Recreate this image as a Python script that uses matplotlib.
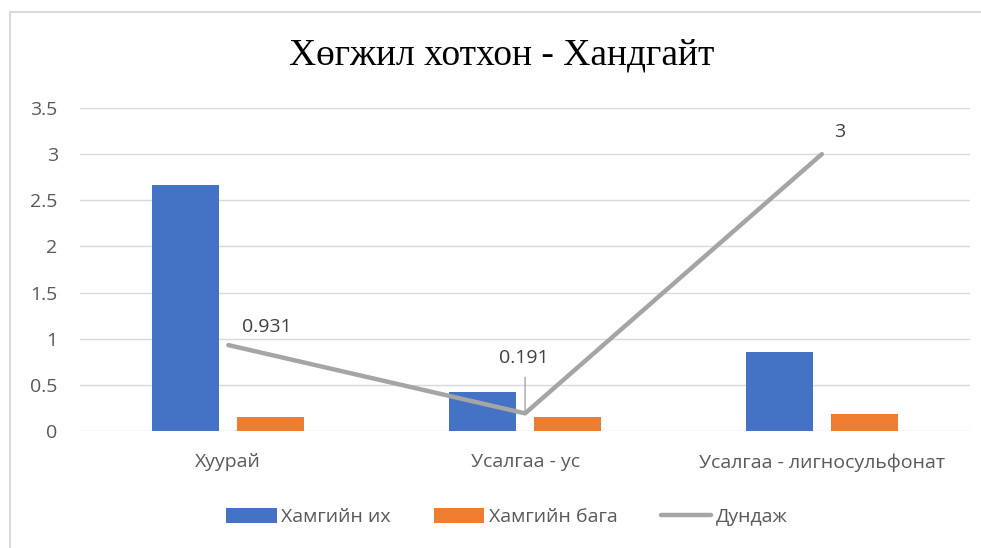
import matplotlib.pyplot as plt
import matplotlib.patches as mpatches
import numpy as np

plt.rcParams['font.family'] = ['Open Sans', 'DejaVu Sans']

categories = ["Хуурай", "Усалгаа - ус", "Усалгаа - лигносульфонат"]
max_vals = [2.66, 0.42, 0.86]
min_vals = [0.15, 0.15, 0.18]
avg_vals = [0.931, 0.191, 3]
avg_labels = ["0.931", "0.191", "3"]
series_names = ["Хамгийн их", "Хамгийн бага", "Дундаж"]
title = "Хөгжил хотхон - Хандгайт"

blue = '#4472C4'
orange = '#ED7D31'
grey = '#A5A5A5'
txt = '#595959'
fs = 14

fig = plt.figure(figsize=(9.81, 5.48), dpi=100)
ax = fig.add_axes([0.0815, 0.2135, 0.9075, 0.5895])

x = np.arange(len(categories))
w = 0.226
b1 = ax.bar(x - 0.143, max_vals, w, color=blue, label=series_names[0], zorder=2)
b2 = ax.bar(x + 0.143, min_vals, w, color=orange, label=series_names[1], zorder=2)
l1, = ax.plot(x, avg_vals, color=grey, lw=3.2, label=series_names[2], zorder=3,
              solid_capstyle='round')

ax.set_xlim(-0.5, 2.5)
ax.set_ylim(0, 3.5)
ax.set_yticks(np.arange(0, 3.51, 0.5))
ax.set_yticklabels(["0", "0.5", "1", "1.5", "2", "2.5", "3", "3.5"])
ax.set_xticks(x)
ax.set_xticklabels(categories)
ax.tick_params(axis='y', length=0, pad=16, labelsize=fs, labelcolor=txt)
ax.tick_params(axis='x', length=0, pad=16, labelsize=fs, labelcolor=txt)
ax.grid(axis='y', color='#D9D9D9', lw=1, zorder=0)
for s in ax.spines.values():
    s.set_visible(False)

# data labels
offsets = [(14, 18, 'left'), (-1, 55, 'center'), (18, 22, 'center')]
for i, (v, lab) in enumerate(zip(avg_vals, avg_labels)):
    dx, dy, ha = offsets[i]
    ax.annotate(lab, (x[i], v), xytext=(dx, dy), textcoords='offset pixels',
                ha=ha, va='center', fontsize=fs, color='#404040')
# leader line for the middle label
ax.annotate("", (x[1], avg_vals[1]), xytext=(0, 36), textcoords='offset pixels',
            arrowprops=dict(arrowstyle='-', color=grey, lw=1, shrinkA=0, shrinkB=2))

fig.text(0.511, 1 - 55 / 548, title, ha='center', va='center',
         fontsize=27, family='Liberation Serif', color='black')

fig.legend([b1, b2, l1], series_names, loc='center',
           bbox_to_anchor=(507 / 981, 1 - 517 / 548), ncol=3,
           frameon=False, fontsize=fs, handlelength=2.6, handleheight=0.8,
           handletextpad=0.25, columnspacing=2.2, labelcolor=txt)

fig.patches.append(mpatches.Rectangle((10 / 981, -0.05), 1.2, 1 - 12 / 548 + 0.05,
                                      transform=fig.transFigure, fill=False,
                                      edgecolor='#D9D9D9', lw=1.5))

fig.savefig("out.png", dpi=100)
